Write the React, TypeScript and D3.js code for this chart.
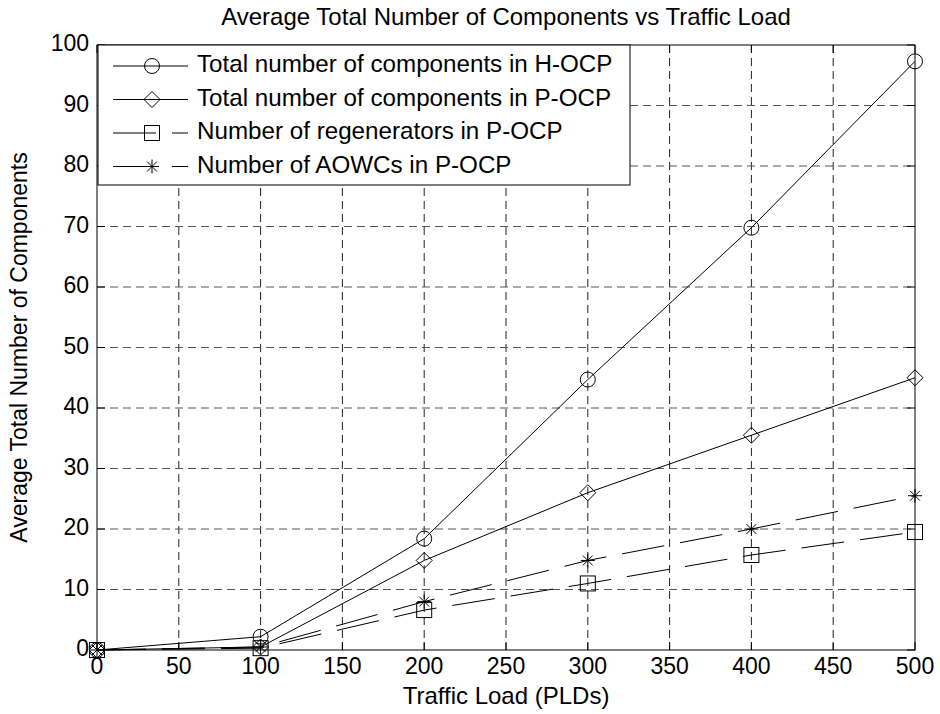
import React, { useEffect, useRef } from 'react';
import * as d3 from 'd3';

const TRAFFIC_LOAD = [0, 100, 200, 300, 400, 500];
const TOTAL_H_OCP = [0, 2.2, 18.4, 44.7, 69.8, 97.3];
const TOTAL_P_OCP = [0, 0.5, 14.8, 26, 35.5, 45];
const REGENERATORS_P_OCP = [0, 0.3, 6.6, 11, 15.7, 19.5];
const AOWCS_P_OCP = [0, 0.5, 8, 14.8, 20, 25.5];

const X_TICKS = [0, 50, 100, 150, 200, 250, 300, 350, 400, 450, 500];
const Y_TICKS = [0, 10, 20, 30, 40, 50, 60, 70, 80, 90, 100];

const SERIES = [
    { label: 'Total number of components in H-OCP', values: TOTAL_H_OCP, marker: 'circle', dashed: false },
    { label: 'Total number of components in P-OCP', values: TOTAL_P_OCP, marker: 'diamond', dashed: false },
    { label: 'Number of regenerators in P-OCP', values: REGENERATORS_P_OCP, marker: 'square', dashed: true },
    { label: 'Number of AOWCs in P-OCP', values: AOWCS_P_OCP, marker: 'star', dashed: true },
];

const FONT = '"Liberation Sans", Arial, Helvetica, sans-serif';
const DATA_DASH = '43,16';
const GRID_DASH = '8,5';

function drawMarker(g, kind, cx, cy)
{
    const common = (sel) => sel.attr('fill', 'none').attr('stroke', '#000').attr('stroke-width', 1);
    if (kind === 'circle')
    {
        common(g.append('circle').attr('cx', cx).attr('cy', cy).attr('r', 7.5));
    }
    else if (kind === 'diamond')
    {
        const s = 8;
        common(g.append('path').attr('d', `M${ cx },${ cy - s }L${ cx + s },${ cy }L${ cx },${ cy + s }L${ cx - s },${ cy }Z`));
    }
    else if (kind === 'square')
    {
        const s = 7.5;
        common(g.append('rect').attr('x', cx - s).attr('y', cy - s).attr('width', 2 * s).attr('height', 2 * s));
    }
    else
    {
        const s = 7;
        const d = s * 0.7;
        common(g.append('path').attr('d',
            `M${ cx },${ cy - s }L${ cx },${ cy + s }M${ cx - s },${ cy }L${ cx + s },${ cy }` +
            `M${ cx - d },${ cy - d }L${ cx + d },${ cy + d }M${ cx - d },${ cy + d }L${ cx + d },${ cy - d }`));
    }
}

export default function App()
{
    const svgRef = useRef(null);
    const width = 940;
    const height = 714;

    useEffect(() =>
    {
        const margin = { left: 97, right: 940 - 915, top: 45, bottom: 714 - 650 };
        const innerWidth = width - margin.left - margin.right;
        const innerHeight = height - margin.top - margin.bottom;

        const svg = d3.select(svgRef.current);
        svg.selectAll('*').remove();
        svg.append('rect').attr('width', width).attr('height', height).attr('fill', '#fff');

        const g = svg.append('g').attr('transform', `translate(${ margin.left },${ margin.top })`);

        const x = d3.scaleLinear().domain([0, 500]).range([0, innerWidth]);
        const y = d3.scaleLinear().domain([0, 100]).range([innerHeight, 0]);

        // grid
        g.append('g').selectAll('line').data(X_TICKS.slice(1, -1)).join('line')
            .attr('x1', (d) => x(d)).attr('x2', (d) => x(d))
            .attr('y1', 0).attr('y2', innerHeight)
            .attr('stroke', '#222').attr('stroke-dasharray', GRID_DASH);
        g.append('g').selectAll('line').data(Y_TICKS.slice(1, -1)).join('line')
            .attr('y1', (d) => y(d)).attr('y2', (d) => y(d))
            .attr('x1', 0).attr('x2', innerWidth)
            .attr('stroke', '#555').attr('stroke-dasharray', GRID_DASH);

        // ticks, inward on all sides
        const tickLen = 8;
        const ticks = g.append('g').attr('stroke', '#000');
        X_TICKS.forEach((t) =>
        {
            ticks.append('line').attr('x1', x(t)).attr('x2', x(t)).attr('y1', innerHeight).attr('y2', innerHeight - tickLen);
            ticks.append('line').attr('x1', x(t)).attr('x2', x(t)).attr('y1', 0).attr('y2', tickLen);
        });
        Y_TICKS.forEach((t) =>
        {
            ticks.append('line').attr('y1', y(t)).attr('y2', y(t)).attr('x1', 0).attr('x2', tickLen);
            ticks.append('line').attr('y1', y(t)).attr('y2', y(t)).attr('x1', innerWidth).attr('x2', innerWidth - tickLen);
        });

        // tick labels
        g.append('g').selectAll('text').data(X_TICKS).join('text')
            .attr('x', (d) => x(d)).attr('y', innerHeight + 18)
            .attr('text-anchor', 'middle').attr('dominant-baseline', 'middle')
            .attr('font-family', FONT).attr('font-size', 23)
            .text((d) => d);
        g.append('g').selectAll('text').data(Y_TICKS).join('text')
            .attr('x', -8).attr('y', (d) => y(d))
            .attr('text-anchor', 'end').attr('dominant-baseline', 'middle')
            .attr('font-family', FONT).attr('font-size', 23)
            .text((d) => d);

        // series
        SERIES.forEach((s) =>
        {
            const pts = TRAFFIC_LOAD.map((t, i) => [t, s.values[i]]);
            const line = d3.line().x((d) => x(d[0])).y((d) => y(d[1]));
            g.append('path').datum(pts)
                .attr('d', line)
                .attr('fill', 'none').attr('stroke', '#000').attr('stroke-width', 1)
                .attr('stroke-dasharray', s.dashed ? DATA_DASH : null)
                .attr('stroke-dashoffset', s.dashed ? 53 : null);
            pts.forEach((p) => drawMarker(g, s.marker, x(p[0]), y(p[1])));
        });

        // axes box
        g.append('rect').attr('width', innerWidth).attr('height', innerHeight)
            .attr('fill', 'none').attr('stroke', '#000').attr('stroke-width', 1);

        // legend
        const legend = g.append('g').attr('transform', 'translate(1,0)');
        legend.append('rect').attr('width', 532).attr('height', 140)
            .attr('fill', '#fff').attr('stroke', '#000').attr('stroke-width', 1);
        SERIES.forEach((s, i) =>
        {
            const ly = 21 + i * 33.5;
            legend.append('line').attr('x1', 15).attr('x2', 90).attr('y1', ly).attr('y2', ly)
                .attr('stroke', '#000').attr('stroke-dasharray', s.dashed ? DATA_DASH : null);
            drawMarker(legend, s.marker, 54, ly);
            legend.append('text').attr('x', 99).attr('y', ly)
                .attr('dominant-baseline', 'middle')
                .attr('font-family', FONT).attr('font-size', 24.2)
                .text(s.label);
        });

        // titles
        svg.append('text').attr('x', margin.left + innerWidth / 2).attr('y', 19)
            .attr('text-anchor', 'middle').attr('dominant-baseline', 'middle')
            .attr('font-family', FONT).attr('font-size', 24)
            .text('Average Total Number of Components vs Traffic Load');
        svg.append('text').attr('x', margin.left + innerWidth / 2).attr('y', 698)
            .attr('text-anchor', 'middle').attr('dominant-baseline', 'middle')
            .attr('font-family', FONT).attr('font-size', 24)
            .text('Traffic Load (PLDs)');
        svg.append('text')
            .attr('transform', `translate(21,${ margin.top + innerHeight / 2 }) rotate(-90)`)
            .attr('text-anchor', 'middle').attr('dominant-baseline', 'middle')
            .attr('font-family', FONT).attr('font-size', 23)
            .text('Average Total Number of Components');
    }, []);

    return (
        <svg ref={ svgRef } width={ width } height={ height }
            style={ { position: 'absolute', left: 0, top: 0, display: 'block' } } />
    );
}
